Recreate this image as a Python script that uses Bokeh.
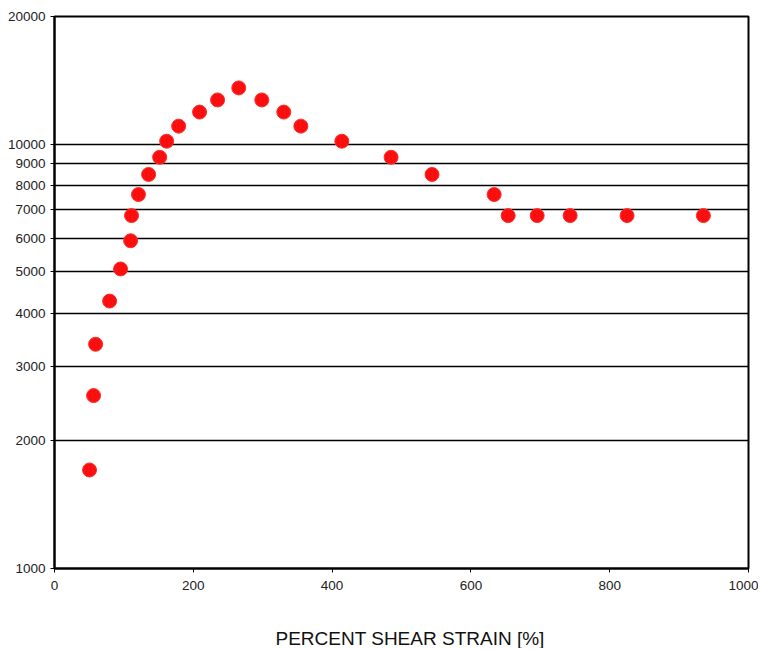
from bokeh.plotting import figure
from bokeh.models import FixedTicker, PrintfTickFormatter, Title, LinearAxis
from bokeh.embed import file_html
from bokeh.resources import INLINE

strain = [50.5, 56.3, 59.2, 79.4, 95.2, 109.7, 111, 121, 135.6, 151.5, 161.6, 178.9,
          209, 235, 265.5, 298.7, 330.4, 355, 414, 485, 544, 633.5, 653.7, 695.5,
          743, 825, 935]
values = [1707, 2556, 3376, 4269, 5082, 5922, 6788, 7611, 8487, 9316, 10165, 11031,
          11905, 12716, 13575, 12716, 11905, 11031, 10165, 9316, 8487, 7611, 6788, 6788,
          6788, 6788, 6788]
y_ticks = [1000, 2000, 3000, 4000, 5000, 6000, 7000, 8000, 9000, 10000, 20000]
x_ticks = [0, 200, 400, 600, 800, 1000]
x_title = "PERCENT SHEAR STRAIN [%]"

p = figure(width=758, height=648, output_backend="svg", toolbar_location=None,
           y_axis_type="log", x_range=(0, 1000), y_range=(1000, 20000),
           min_border_left=54, min_border_right=10, min_border_top=16, min_border_bottom=79)

p.outline_line_color = "black"
p.outline_line_width = 2

p.xgrid.visible = False
p.ygrid.ticker = FixedTicker(ticks=y_ticks)
p.ygrid.grid_line_color = "black"
p.ygrid.grid_line_width = 1.6

for ax in (p.xaxis[0], p.yaxis[0]):
    ax.axis_line_color = "black"
    ax.axis_line_width = 2
    ax.major_tick_line_color = "black"
    ax.major_tick_line_width = 1
    ax.major_tick_in = 0
    ax.major_tick_out = 4
    ax.minor_tick_line_color = None
    ax.major_label_text_font = "Liberation Sans"
    ax.major_label_text_font_size = "13.5px"
    ax.major_label_text_color = "#222222"

p.yaxis.ticker = FixedTicker(ticks=y_ticks, minor_ticks=[])
p.yaxis.formatter = PrintfTickFormatter(format="%d")
p.yaxis.major_label_standoff = 5

p.xaxis.ticker = FixedTicker(ticks=x_ticks, minor_ticks=[])
p.xaxis.major_label_standoff = 8

# invisible spacer between tick labels and the axis title
spacer = LinearAxis(ticker=FixedTicker(ticks=[], minor_ticks=[]), major_tick_out=0,
                    major_tick_in=0, axis_line_color=None, major_tick_line_color=None,
                    minor_tick_line_color=None, major_label_standoff=0,
                    major_label_text_font_size="0px", axis_label=" ",
                    axis_label_standoff=9, axis_label_text_font_size="19px",
                    axis_label_text_alpha=0)
p.add_layout(spacer, "below")

p.add_layout(Title(text=x_title, align="left", offset=221, vertical_align="bottom",
                   standoff=0, text_font="Liberation Sans", text_font_size="19px",
                   text_font_style="normal", text_color="#111111"), "below")

p.scatter(strain, values, size=14, fill_color="#ff1010", line_color="#ff3030",
          line_width=1, hatch_pattern="vertical_wave", hatch_color="#d00000",
          hatch_scale=4, hatch_weight=0.6, hatch_alpha=0.6)

open("out.html", "w").write(file_html(p, INLINE))
